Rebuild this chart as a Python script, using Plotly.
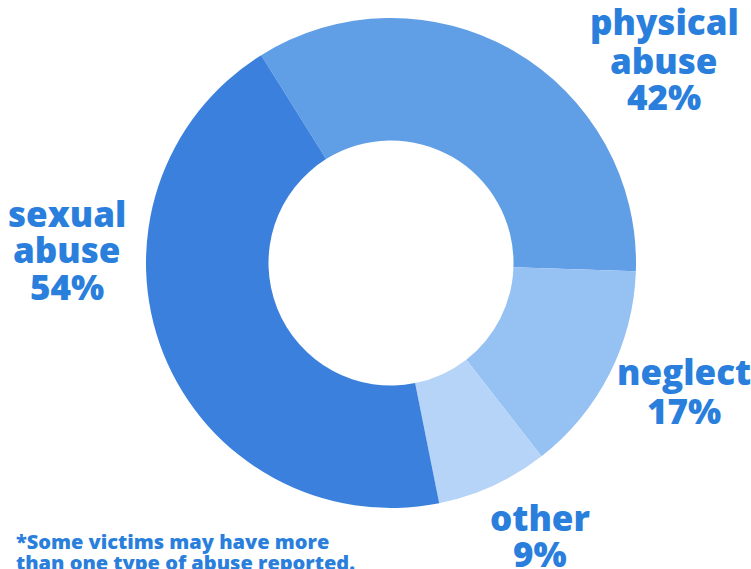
import plotly.graph_objects as go

categories = ["physical abuse", "neglect", "other", "sexual abuse"]
values = [42, 17, 9, 54]
colors = ["#609ee6", "#96c1f3", "#b6d4f7", "#3a80dc"]
footnote = ["*Some victims may have more", "than one type of abuse reported."]

TXT = "#2a7fdc"
FONT = "Open Sans"

fig = go.Figure(go.Pie(
    labels=categories, values=values, sort=False, direction="clockwise",
    rotation=-32, hole=0.5, textinfo="none", hoverinfo="label+value",
    marker=dict(colors=colors, line=dict(width=0)),
    domain=dict(x=[0.1944, 0.8469], y=[0.1072, 0.9684]),
    showlegend=False,
))

# label blocks: center x px, line center y px
label_pos = {
    "physical abuse": (664, [22, 60, 96]),
    "sexual abuse": (67, [213, 250, 286]),
    "neglect": (684, [372, 410]),
    "other": (540, [517, 553]),
}
W, H = 751, 569
ann = []
for cat, v in zip(categories, values):
    cx, ys = label_pos[cat]
    lines = cat.split(" ") + [f"{v}%"]
    for txt, y in zip(lines, ys):
        ann.append(dict(x=cx / W, y=1 - y / H, xref="paper", yref="paper",
                        text=txt, showarrow=False, xanchor="center", yanchor="middle",
                        font=dict(family=FONT, size=35, color=TXT, weight=800)))
for txt, y in zip(footnote, [541, 562]):
    ann.append(dict(x=14 / W, y=1 - y / H, xref="paper", yref="paper",
                    text=txt, showarrow=False, xanchor="left", yanchor="middle",
                    font=dict(family=FONT, size=20, color=TXT, weight=800)))

fig.update_layout(width=W, height=H, margin=dict(l=0, r=0, t=0, b=0),
                  paper_bgcolor="white", plot_bgcolor="white", annotations=ann)
fig.write_html("out.html", config={"displayModeBar": False},
               post_script="document.body.style.margin='0';")
